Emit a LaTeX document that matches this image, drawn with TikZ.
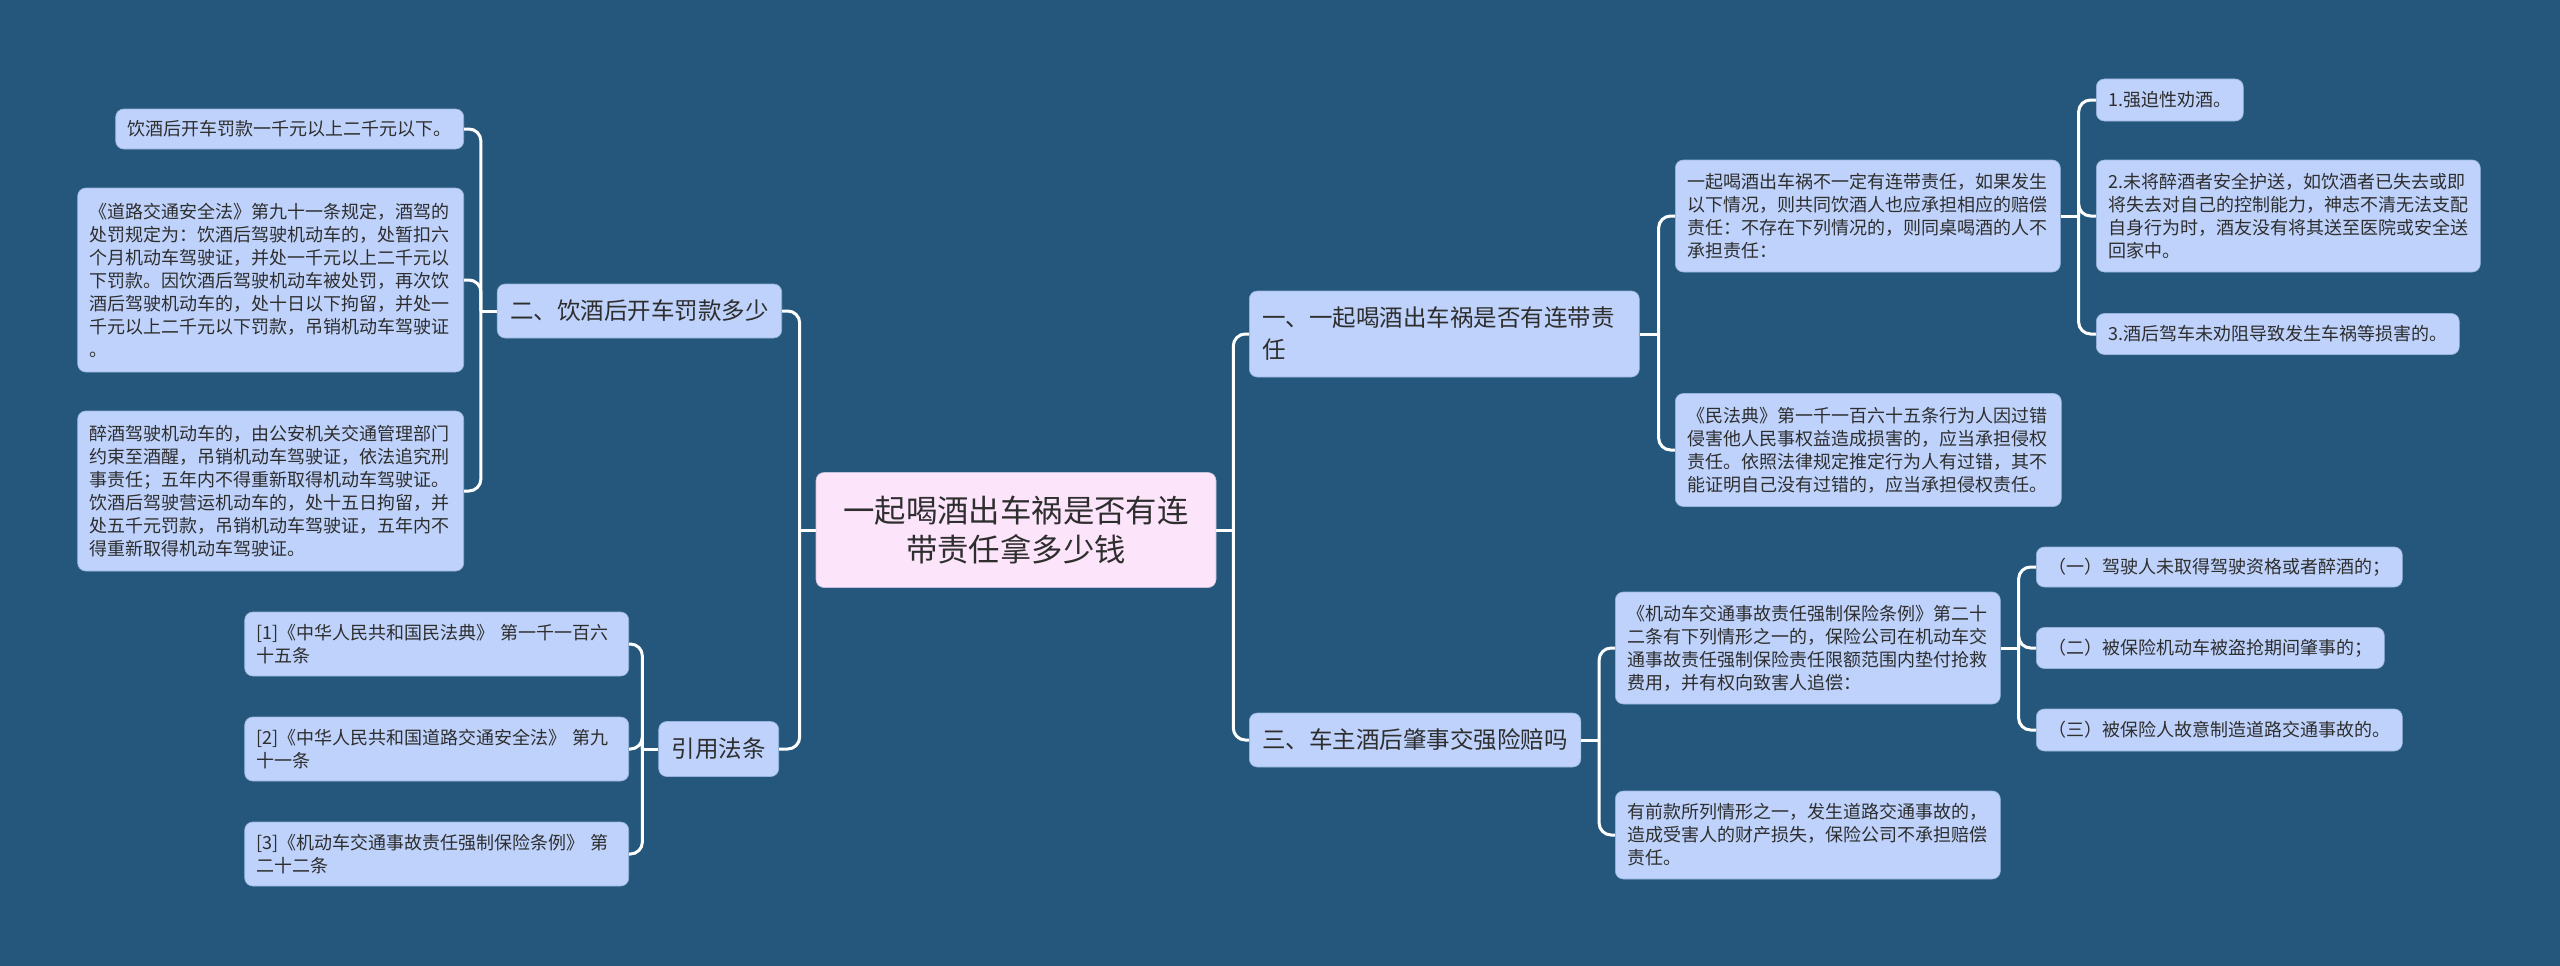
\documentclass[tikz,border=0pt]{standalone}
\usepackage{fontspec}
\usepackage{tikz}
\newfontfamily\cjk{Noto Sans CJK SC}
\definecolor{bg}{HTML}{24577B}
\definecolor{leafc}{HTML}{BED2FB}
\definecolor{rootc}{HTML}{FCE4FA}
\definecolor{ink}{HTML}{2E2E2E}
\tikzset{
  box/.style={fill=leafc,draw=leafc!75!bg,line width=0.6pt,rounded corners=8pt,text=ink,inner ysep=0pt},
  leaf/.style={box,inner xsep=12pt,align=left,font=\cjk\fontsize{18}{23}\selectfont},
  branch/.style={box,inner xsep=13pt,align=left,font=\cjk\fontsize{23.5}{32}\selectfont},
  root/.style={box,fill=rootc,draw=rootc!75!bg,align=center,font=\cjk\fontsize{31.4}{39}\selectfont},
  link/.style={white,line width=3pt,rounded corners=12pt},
}

\begin{document}
\begin{tikzpicture}[x=1pt,y=-1pt]
  \fill[bg] (0,0) rectangle (2560,966);
  \node[root,minimum width=400pt,minimum height=115pt] (root) at (1016,530) {一起喝酒出车祸是否有连\\带责任拿多少钱};

  \node[branch,minimum height=54pt,anchor=east] (fine) at (782,311) {二、饮酒后开车罚款多少};
  \node[branch,minimum height=55pt,anchor=east] (law) at (779,749) {引用法条};
  \node[leaf,minimum height=40pt,anchor=east] (fine1) at (464,129) {饮酒后开车罚款一千元以上二千元以下。};
  \node[leaf,text width=362pt,minimum height=184pt,anchor=east] (fine2) at (464,280) {《道路交通安全法》第九十一条规定，酒驾的\\处罚规定为：饮酒后驾驶机动车的，处暂扣六\\个月机动车驾驶证，并处一千元以上二千元以\\下罚款。因饮酒后驾驶机动车被处罚，再次饮\\酒后驾驶机动车的，处十日以下拘留，并处一\\千元以上二千元以下罚款，吊销机动车驾驶证\\。};
  \node[leaf,text width=362pt,minimum height=160pt,anchor=east] (fine3) at (464,491) {醉酒驾驶机动车的，由公安机关交通管理部门\\约束至酒醒，吊销机动车驾驶证，依法追究刑\\事责任；五年内不得重新取得机动车驾驶证。\\饮酒后驾驶营运机动车的，处十五日拘留，并\\处五千元罚款，吊销机动车驾驶证，五年内不\\得重新取得机动车驾驶证。};
  \node[leaf,text width=360pt,minimum height=64pt,anchor=east] (law1) at (629,644) {[1]《中华人民共和国民法典》 第一千一百六\\十五条};
  \node[leaf,text width=360pt,minimum height=64pt,anchor=east] (law2) at (629,749) {[2]《中华人民共和国道路交通安全法》 第九\\十一条};
  \node[leaf,text width=360pt,minimum height=64pt,anchor=east] (law3) at (629,854) {[3]《机动车交通事故责任强制保险条例》 第\\二十二条};

  \node[branch,text width=364pt,minimum height=86pt,anchor=west] (joint) at (1249,334) {一、一起喝酒出车祸是否有连带责\\任};
  \node[branch,minimum height=54pt,anchor=west] (ins) at (1249,740) {三、车主酒后肇事交强险赔吗};
  \node[leaf,text width=361pt,minimum height=112pt,anchor=west] (joint1) at (1675,216) {一起喝酒出车祸不一定有连带责任，如果发生\\以下情况，则共同饮酒人也应承担相应的赔偿\\责任：不存在下列情况的，则同桌喝酒的人不\\承担责任：};
  \node[leaf,text width=362pt,minimum height=113pt,anchor=west] (joint2) at (1675,450) {《民法典》第一千一百六十五条行为人因过错\\侵害他人民事权益造成损害的，应当承担侵权\\责任。依照法律规定推定行为人有过错，其不\\能证明自己没有过错的，应当承担侵权责任。};
  \node[leaf,minimum height=42pt,anchor=west] (case1) at (2096,100) {1.强迫性劝酒。};
  \node[leaf,text width=360pt,minimum height=112pt,anchor=west] (case2) at (2096,216) {2.未将醉酒者安全护送，如饮酒者已失去或即\\将失去对自己的控制能力，神志不清无法支配\\自身行为时，酒友没有将其送至医院或安全送\\回家中。};
  \node[leaf,minimum height=41pt,anchor=west] (case3) at (2096,334) {3.酒后驾车未劝阻导致发生车祸等损害的。};
  \node[leaf,text width=361pt,minimum height=112pt,anchor=west] (ins1) at (1615,648) {《机动车交通事故责任强制保险条例》第二十\\二条有下列情形之一的，保险公司在机动车交\\通事故责任强制保险责任限额范围内垫付抢救\\费用，并有权向致害人追偿：};
  \node[leaf,text width=361pt,minimum height=88pt,anchor=west] (ins2) at (1615,835) {有前款所列情形之一，发生道路交通事故的，\\造成受害人的财产损失，保险公司不承担赔偿\\责任。};
  \node[leaf,minimum height=40pt,anchor=west] (item1) at (2036,567) {（一）驾驶人未取得驾驶资格或者醉酒的；};
  \node[leaf,minimum height=41pt,anchor=west] (item2) at (2036,648) {（二）被保险机动车被盗抢期间肇事的；};
  \node[leaf,minimum height=42pt,anchor=west] (item3) at (2036,730) {（三）被保险人故意制造道路交通事故的。};

  \draw[link] (root.east) -- ++(17,0) coordinate (rk);
  \foreach \n in {joint,ins} \draw[link] (rk) |- (\n.west);
  \draw[link] (root.west) -- ++(-16,0) coordinate (lk);
  \foreach \n in {fine,law} \draw[link] (lk) |- (\n.east);
  \draw[link] (fine.west) -- ++(-16,0) coordinate (fk);
  \foreach \n in {fine1,fine2,fine3} \draw[link] (fk) |- (\n.east);
  \draw[link] (law.west) -- ++(-16,0) coordinate (gk);
  \foreach \n in {law1,law2,law3} \draw[link] (gk) |- (\n.east);
  \draw[link] (joint.east) -- ++(19,0) coordinate (jk);
  \foreach \n in {joint1,joint2} \draw[link] (jk) |- (\n.west);
  \draw[link] (joint1.east) -- ++(18,0) coordinate (ck);
  \foreach \n in {case1,case2,case3} \draw[link] (ck) |- (\n.west);
  \draw[link] (ins.east) -- ++(18,0) coordinate (ik);
  \foreach \n in {ins1,ins2} \draw[link] (ik) |- (\n.west);
  \draw[link] (ins1.east) -- ++(18,0) coordinate (tk);
  \foreach \n in {item1,item2,item3} \draw[link] (tk) |- (\n.west);
\end{tikzpicture}
\end{document}
